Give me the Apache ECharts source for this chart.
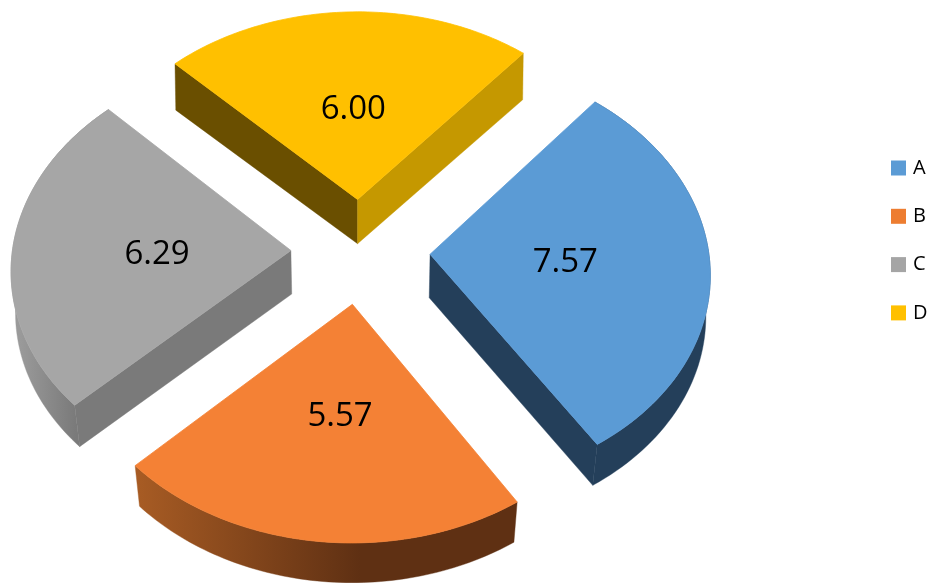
<!DOCTYPE html>
<html><head><meta charset="utf-8">
<style>html,body{margin:0;padding:0;background:#fff}#c{width:936px;height:583px}</style>
<script src="https://cdn.jsdelivr.net/npm/echarts@6/dist/echarts.min.js"></script>
</head><body><div id="c"></div>
<script>
const categories = ['A','B','C','D'];
const values = [7.57,5.57,6.29,6.00];
const colors = ['#5B9BD5','#F48135','#A6A6A6','#FFC000'];
const legendColors = ['#5B9BD5','#ED7D31','#A5A5A5','#FFC000'];
const labelNudge = [[4,2],[4,6],[-3,5],[1,2]];

// view of the tilted disc
const discView = {cx:360.5, cy:251, rx:278.5, ry:210.5, persp:0.08, explode:0.25, start:40, labelR:0.47};
const total = values.reduce((a,b)=>a+b,0);
const rad = d => d*Math.PI/180;
function topPt(u,v){const w=1/(1-discView.persp*v);return [discView.cx+discView.rx*u*w, discView.cy+discView.ry*v*w];}
function bottomPt(u,v){const p=topPt(u,v);const s=0.988-0.008*v;return [discView.cx+(p[0]-discView.cx)*s, p[1]+43.5-3*v];}
function grad(x0,x1,c0,c1){return new echarts.graphic.LinearGradient(x0,0,x1,0,[{offset:0,color:c0},{offset:1,color:c1}],true);}
const walls = [
  {start:null, end:'#243F5A', arc:'#243F5A'},
  {start:null, end:null, arc:grad(135,360,'#A85C24','#5F3013')},
  {start:'#7A7A7A', end:null, arc:grad(20,76,'#9A9A9A','#7A7A7A')},
  {start:'#6A4F00', end:'#C59800', arc:null}
];
function poly(points,fill,lw){return {type:'polygon',shape:{points},style:{fill,stroke:fill,lineWidth:lw}};}
function renderSlice(i){
  const before = values.slice(0,i).reduce((a,b)=>a+b,0);
  const a0 = discView.start+before/total*360, a1 = a0+values[i]/total*360, mid=(a0+a1)/2;
  const ex = discView.explode*Math.sin(rad(mid)), ey = -discView.explode*Math.cos(rad(mid));
  const uv = (a,r)=>[ex+r*Math.sin(rad(a)), ey-r*Math.cos(rad(a))];
  const arc=[]; for(let k=0;k<=72;k++) arc.push(uv(a0+(a1-a0)*k/72,1));
  const t=arc.map(p=>topPt(p[0],p[1])), b=arc.map(p=>bottomPt(p[0],p[1]));
  const apexT=topPt(ex,ey), apexB=bottomPt(ex,ey);
  const w=walls[i];
  const label=uv(mid,discView.labelR), lp=topPt(label[0],label[1]);
  const children=[];
  if(w.start) children.push(poly([apexT,t[0],b[0],apexB],w.start,0.4));
  if(w.end) children.push(poly([apexT,t[t.length-1],b[b.length-1],apexB],w.end,0.4));
  if(w.arc) children.push(poly(t.concat(b.slice().reverse()),w.arc,0.4));
  children.push(poly([apexT].concat(t),colors[i],0.8));
  children.push({type:'text',x:lp[0]+labelNudge[i][0],y:lp[1]+labelNudge[i][1],style:{text:values[i].toFixed(2),fill:'#000',font:'33px "Open Sans"',align:'center',verticalAlign:'middle'}});
  return {type:'group',children};
}
const chart = echarts.init(document.getElementById('c'),null,{renderer:'canvas'});
chart.setOption({
  animation:false,
  legend:{
    data:categories, orient:'vertical', left:891, top:158, padding:0,
    itemWidth:15, itemHeight:15, itemGap:28.3, selectedMode:false,
    icon:'rect',
    textStyle:{fontFamily:'Open Sans',fontSize:20,color:'#000',padding:[0,0,0,2]}
  },
  series:categories.map((name,i)=>({
    type:'custom', name, coordinateSystem:'none',
    itemStyle:{color:legendColors[i]},
    data:[values[i]],
    renderItem:()=>renderSlice(i)
  }))
});
</script></body></html>
